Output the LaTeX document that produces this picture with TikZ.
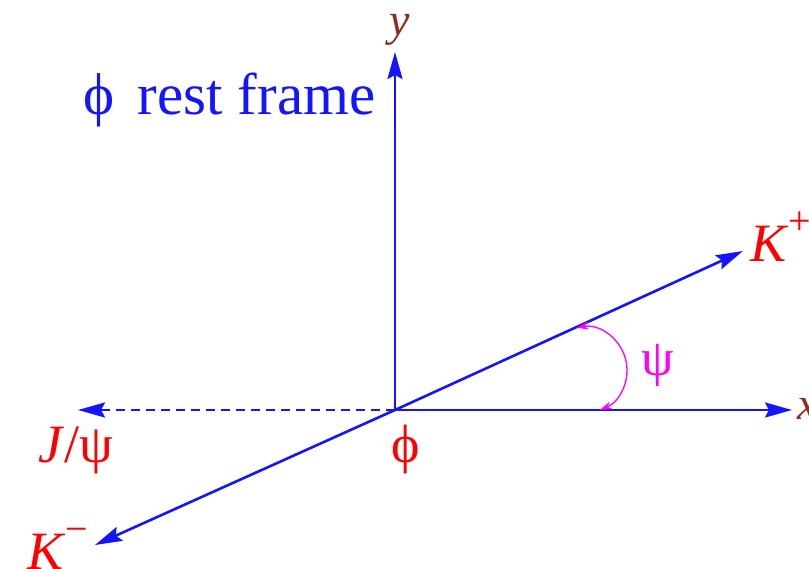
\documentclass[tikz,border=0pt]{standalone}
\usepackage{fontspec}
\setmainfont{Liberation Serif}
\usetikzlibrary{arrows.meta}
\definecolor{axisblue}{RGB}{20,20,255}
\definecolor{lblred}{RGB}{255,0,0}
\definecolor{lblbrown}{RGB}{140,45,35}
\definecolor{arcmag}{RGB}{255,0,255}
\tikzset{
  vec/.style={draw=axisblue, line width=2.6pt, -{Stealth[length=27pt,width=15pt,inset=4pt]}},
  dvec/.style={vec, dash pattern=on 9pt off 6pt},
  lbl/.style={text=lblred, font=\fontsize{54}{60}\selectfont, inner sep=0pt},
  axlbl/.style={text=lblbrown, font=\fontsize{46}{50}\selectfont\itshape, inner sep=0pt},
  title/.style={text=axisblue, font=\fontsize{59}{64}\selectfont, inner sep=0pt},
  angarc/.style={draw=arcmag, line width=1.3pt, {Stealth[length=12pt,width=8pt]}-{Stealth[length=12pt,width=8pt]}}
}
\begin{document}
\begin{tikzpicture}[x=1pt,y=1pt]
\useasboundingbox (0,0) rectangle (809,568);
% key points
\coordinate (O) at (395,158);
\coordinate (Ytip) at (395,516);
\coordinate (Xtip) at (792,158);
\coordinate (Jtip) at (78,158);
\coordinate (KPtip) at (743,317);
\coordinate (KMtip) at (95,23);
\coordinate (ArcStart) at (576.5,240.3);
% axes and momenta
\draw[vec] (O) -- (Ytip);
\draw[vec] (O) -- (Xtip);
\draw[dvec] (O) -- (Jtip);
\draw[vec] (O) -- (KPtip);
\draw[vec] (O) -- (KMtip);
% angle psi
\draw[angarc] (ArcStart) arc[start angle=100, end angle=-68, radius=43];
% labels
\node[axlbl, anchor=base] (ylab) at (400,532) {y};
\node[axlbl, anchor=base west] (xlab) at (797,148) {x};
\node[title, anchor=base west] (frame) at (83,453) {ϕ\hspace{0.4em}rest frame};
\node[lbl, anchor=base west] (kplus) at (750,306) {\textit{K}\raisebox{0.5em}{\fontsize{40}{44}\selectfont +}};
\node[lbl, anchor=base west] (kminus) at (27,-1) {\textit{K}\raisebox{0.5em}{\fontsize{40}{44}\selectfont −}};
\node[lbl, anchor=base west] (jpsi) at (38,105) {\textit{J}/ψ};
\node[lbl, anchor=base] (phi) at (406,105) {ϕ};
\node[text=arcmag, font=\fontsize{52}{58}\selectfont, inner sep=0pt, anchor=base] (psi) at (658,192) {ψ};
\end{tikzpicture}
\end{document}
